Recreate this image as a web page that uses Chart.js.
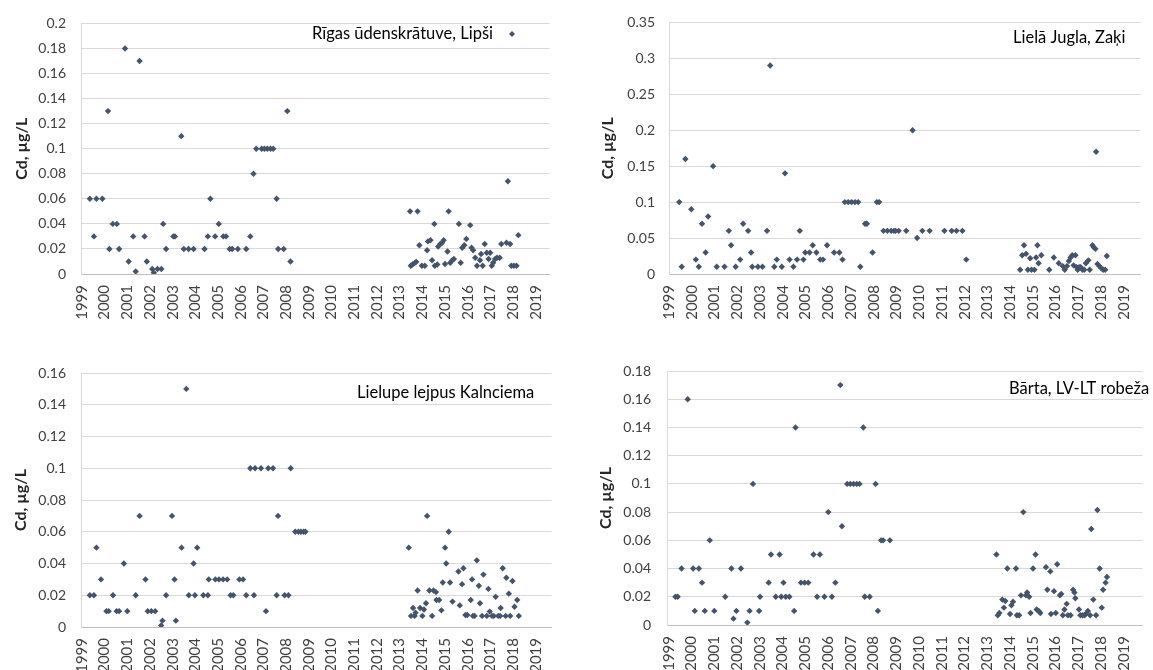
<!DOCTYPE html>
<html>
<head>
<meta charset="utf-8">
<script src="https://cdn.jsdelivr.net/npm/chart.js@4.4.1/dist/chart.umd.min.js"></script>
<style>
  body { margin: 0; background: #fff; width: 1153px; height: 670px; overflow: hidden; position: relative; }
  .panel { position: absolute; height: 330px; }
</style>
</head>
<body>
<div class="panel" style="left:0;top:0;width:565px"><canvas id="lipsi"></canvas></div>
<div class="panel" style="left:576px;top:0;width:577px"><canvas id="zaki"></canvas></div>
<div class="panel" style="left:0;top:340px;width:565px"><canvas id="kalnciems"></canvas></div>
<div class="panel" style="left:576px;top:340px;width:577px"><canvas id="barta"></canvas></div>
<script>
// sampling dates (decimal years) and Cd values, µg/L
const lipsiYears = [
  1999.35, 1999.53, 1999.64, 1999.9, 2000.15, 2000.21, 2000.36, 2000.54, 2000.64, 2000.9,
  2001.06, 2001.26, 2001.37, 2001.54, 2001.76, 2001.86, 2002.1, 2002.17, 2002.33, 2002.5,
  2002.58, 2002.71, 2003.03, 2003.1, 2003.38, 2003.49, 2003.7, 2003.92, 2004.4, 2004.55,
  2004.66, 2004.87, 2005.03, 2005.23, 2005.35, 2005.51, 2005.62, 2005.87, 2006.24, 2006.42,
  2006.56, 2006.68, 2006.92, 2007.04, 2007.17, 2007.31, 2007.43, 2007.58, 2007.65, 2007.89,
  2008.05, 2008.19,
  2013.46, 2013.79, 2013.49, 2013.57, 2013.66, 2013.73, 2013.87, 2013.98, 2014.11, 2014.21,
  2014.25, 2014.36, 2014.43, 2014.53, 2014.55, 2014.66, 2014.7, 2014.79, 2014.87, 2014.94,
  2015.0, 2015.11, 2015.16, 2015.23, 2015.32, 2015.39, 2015.61, 2015.69, 2015.76, 2015.85,
  2015.94, 2016.11, 2016.17, 2016.24, 2016.33, 2016.41, 2016.54, 2016.59, 2016.66, 2016.75,
  2016.84, 2016.92, 2016.99, 2017.06, 2017.12, 2017.21, 2017.29, 2017.41, 2017.48, 2017.71,
  2017.77, 2017.87, 2017.92, 2018.03, 2018.15, 2018.23
];
const lipsiCd = [
  0.06, 0.03, 0.06, 0.06, 0.13, 0.02, 0.04, 0.04, 0.02, 0.18,
  0.01, 0.03, 0.002, 0.17, 0.03, 0.01, 0.004, 0.001, 0.004, 0.004,
  0.04, 0.02, 0.03, 0.03, 0.11, 0.02, 0.02, 0.02, 0.02, 0.03,
  0.06, 0.03, 0.04, 0.03, 0.03, 0.02, 0.02, 0.02, 0.02, 0.03,
  0.08, 0.1, 0.1, 0.1, 0.1, 0.1, 0.1, 0.06, 0.02, 0.02,
  0.13, 0.01,
  0.05, 0.05, 0.0066, 0.0076, 0.0087, 0.0097, 0.023, 0.0066, 0.0066, 0.019,
  0.026, 0.027, 0.011, 0.04, 0.0066, 0.0076, 0.022, 0.024, 0.025, 0.027,
  0.008, 0.018, 0.05, 0.009, 0.011, 0.012, 0.04, 0.009, 0.021, 0.023,
  0.028, 0.039, 0.021, 0.019, 0.013, 0.0066, 0.011, 0.016, 0.0066, 0.024,
  0.017, 0.012, 0.017, 0.0066, 0.009, 0.012, 0.013, 0.013, 0.024, 0.025,
  0.074, 0.024, 0.0066, 0.0066, 0.0066, 0.031
];

const zakiYears = [
  1999.45, 1999.56, 1999.72, 1999.98, 2000.18, 2000.31, 2000.45, 2000.61, 2000.72, 2000.94,
  2001.1, 2001.44, 2001.63, 2001.73, 2001.93, 2002.13, 2002.26, 2002.48, 2002.61, 2002.66,
  2002.91, 2003.11, 2003.31, 2003.45, 2003.63, 2003.74, 2003.96, 2004.1, 2004.3, 2004.47,
  2004.63, 2004.75, 2004.91, 2004.99, 2005.18, 2005.32, 2005.48, 2005.65, 2005.77, 2005.95,
  2006.26, 2006.49, 2006.63, 2006.73, 2006.88, 2007.03, 2007.18, 2007.32, 2007.41, 2007.62,
  2007.7, 2007.95, 2008.14, 2008.24, 2008.43, 2008.6, 2008.77, 2008.89, 2008.96, 2009.1,
  2009.43, 2009.71, 2009.91, 2010.14, 2010.46, 2011.11, 2011.43, 2011.64, 2011.9, 2012.07,
  2014.44, 2014.53, 2014.61, 2014.7, 2014.78, 2014.88, 2014.94, 2015.07, 2015.14, 2015.2,
  2015.25, 2015.37, 2015.72, 2015.92, 2016.14, 2016.31, 2016.4, 2016.5, 2016.58, 2016.66,
  2016.73, 2016.79, 2016.87, 2016.92, 2016.97, 2017.03, 2017.1, 2017.18, 2017.26, 2017.33,
  2017.44, 2017.5, 2017.62, 2017.68, 2017.75, 2017.78, 2017.84, 2017.92, 2018.01, 2018.09,
  2018.18, 2018.25
];
const zakiCd = [
  0.1, 0.01, 0.16, 0.09, 0.02, 0.01, 0.07, 0.03, 0.08, 0.15,
  0.01, 0.01, 0.06, 0.04, 0.01, 0.02, 0.07, 0.06, 0.03, 0.01,
  0.01, 0.01, 0.06, 0.29, 0.01, 0.02, 0.01, 0.14, 0.02, 0.01,
  0.02, 0.06, 0.02, 0.03, 0.03, 0.04, 0.03, 0.02, 0.02, 0.04,
  0.03, 0.03, 0.02, 0.1, 0.1, 0.1, 0.1, 0.1, 0.01, 0.07,
  0.07, 0.03, 0.1, 0.1, 0.06, 0.06, 0.06, 0.06, 0.06, 0.06,
  0.06, 0.2, 0.05, 0.06, 0.06, 0.06, 0.06, 0.06, 0.06, 0.02,
  0.006, 0.026, 0.04, 0.028, 0.006, 0.022, 0.006, 0.006, 0.023, 0.04,
  0.015, 0.026, 0.006, 0.023, 0.015, 0.011, 0.006, 0.011, 0.018, 0.023,
  0.026, 0.012, 0.026, 0.0096, 0.006, 0.0096, 0.0096, 0.006, 0.006, 0.015,
  0.019, 0.006, 0.04, 0.037, 0.035, 0.17, 0.014, 0.011, 0.008, 0.006,
  0.006, 0.025
];

const kalnciemsYears = [
  1999.35, 1999.53, 1999.64, 1999.84, 2000.08, 2000.18, 2000.37, 2000.53, 2000.64, 2000.85,
  2001.0, 2001.37, 2001.54, 2001.8, 2001.9, 2002.06, 2002.23, 2002.49, 2002.55, 2002.71,
  2002.97, 2003.08, 2003.14, 2003.39, 2003.6, 2003.71, 2003.92, 2003.98, 2004.08, 2004.35,
  2004.55, 2004.59, 2004.88, 2005.04, 2005.22, 2005.4, 2005.55, 2005.67, 2005.94, 2006.1,
  2006.24, 2006.42, 2006.58, 2006.63, 2006.89, 2007.11, 2007.21, 2007.42, 2007.58, 2007.64,
  2007.93, 2008.1, 2008.2, 2008.4, 2008.54, 2008.65, 2008.77, 2008.85,
  2013.4, 2013.5, 2013.59, 2013.66, 2013.7, 2013.79, 2013.9, 2014.0, 2014.07, 2014.16,
  2014.21, 2014.31, 2014.43, 2014.49, 2014.6, 2014.62, 2014.74, 2014.84, 2014.9, 2015.0,
  2015.05, 2015.16, 2015.22, 2015.33, 2015.59, 2015.65, 2015.75, 2015.81, 2015.9, 2015.98,
  2016.13, 2016.19, 2016.23, 2016.3, 2016.4, 2016.49, 2016.54, 2016.63, 2016.69, 2016.84,
  2016.91, 2016.97, 2017.07, 2017.15, 2017.23, 2017.34, 2017.43, 2017.45, 2017.54, 2017.67,
  2017.7, 2017.81, 2017.87, 2017.97, 2018.06, 2018.18, 2018.25
];
const kalnciemsCd = [
  0.02, 0.02, 0.05, 0.03, 0.01, 0.01, 0.02, 0.01, 0.01, 0.04,
  0.01, 0.02, 0.07, 0.03, 0.01, 0.01, 0.01, 0.001, 0.004, 0.02,
  0.07, 0.03, 0.004, 0.05, 0.15, 0.02, 0.04, 0.02, 0.05, 0.02,
  0.02, 0.03, 0.03, 0.03, 0.03, 0.03, 0.02, 0.02, 0.03, 0.03,
  0.02, 0.1, 0.02, 0.1, 0.1, 0.01, 0.1, 0.1, 0.02, 0.07,
  0.02, 0.02, 0.1, 0.06, 0.06, 0.06, 0.06, 0.06,
  0.05, 0.007, 0.012, 0.007, 0.009, 0.023, 0.012, 0.007, 0.011, 0.015,
  0.07, 0.023, 0.007, 0.023, 0.022, 0.017, 0.017, 0.0105, 0.028, 0.05,
  0.04, 0.06, 0.028, 0.016, 0.035, 0.0136, 0.027, 0.037, 0.0076, 0.0076,
  0.017, 0.03, 0.007, 0.007, 0.042, 0.026, 0.015, 0.007, 0.033, 0.007,
  0.024, 0.0097, 0.007, 0.007, 0.019, 0.007, 0.007, 0.012, 0.037, 0.007,
  0.031, 0.021, 0.007, 0.029, 0.0128, 0.017, 0.007
];

const bartaYears = [
  1999.29, 1999.39, 1999.56, 1999.83, 2000.07, 2000.14, 2000.32, 2000.46, 2000.58, 2000.8,
  2001.0, 2001.48, 2001.75, 2001.84, 2001.97, 2002.17, 2002.45, 2002.55, 2002.7, 2002.97,
  2003.01, 2003.39, 2003.49, 2003.7, 2003.87, 2003.94, 2004.04, 2004.14, 2004.3, 2004.51,
  2004.57, 2004.81, 2004.97, 2005.13, 2005.36, 2005.52, 2005.64, 2005.84, 2006.01, 2006.17,
  2006.32, 2006.54, 2006.61, 2006.84, 2006.98, 2007.12, 2007.26, 2007.38, 2007.55, 2007.61,
  2007.83, 2008.09, 2008.19, 2008.33, 2008.42, 2008.72,
  2013.4, 2013.46, 2013.53, 2013.66, 2013.73, 2013.79, 2013.88, 2014.0, 2014.06, 2014.13,
  2014.26, 2014.3, 2014.4, 2014.48, 2014.58, 2014.7, 2014.75, 2014.84, 2014.9, 2015.01,
  2015.12, 2015.17, 2015.26, 2015.33, 2015.58, 2015.64, 2015.77, 2015.8, 2015.93, 2016.01,
  2016.07, 2016.19, 2016.25, 2016.32, 2016.39, 2016.49, 2016.54, 2016.66, 2016.77, 2016.83,
  2016.87, 2017.03, 2017.09, 2017.19, 2017.27, 2017.33, 2017.42, 2017.52, 2017.57, 2017.66,
  2017.78, 2017.84, 2017.94, 2018.03, 2018.09, 2018.2, 2018.26
];
const bartaCd = [
  0.02, 0.02, 0.04, 0.16, 0.04, 0.01, 0.04, 0.03, 0.01, 0.06,
  0.01, 0.02, 0.04, 0.0045, 0.01, 0.04, 0.0017, 0.01, 0.1, 0.01,
  0.02, 0.03, 0.05, 0.02, 0.05, 0.02, 0.03, 0.02, 0.02, 0.01,
  0.14, 0.03, 0.03, 0.03, 0.05, 0.02, 0.05, 0.02, 0.08, 0.02,
  0.03, 0.17, 0.07, 0.1, 0.1, 0.1, 0.1, 0.1, 0.14, 0.02,
  0.02, 0.1, 0.01, 0.06, 0.06, 0.06,
  0.05, 0.0069, 0.0085, 0.018, 0.0123, 0.017, 0.04, 0.0078, 0.014, 0.0165,
  0.04, 0.0069, 0.0069, 0.021, 0.08, 0.021, 0.023, 0.02, 0.0085, 0.04,
  0.05, 0.011, 0.0099, 0.0085, 0.041, 0.025, 0.038, 0.0078, 0.024, 0.0085,
  0.043, 0.021, 0.022, 0.0069, 0.011, 0.015, 0.0069, 0.0069, 0.025, 0.023,
  0.019, 0.011, 0.0069, 0.0069, 0.0069, 0.0078, 0.0099, 0.0069, 0.068, 0.018,
  0.0069, 0.0815, 0.04, 0.0123, 0.025, 0.03, 0.034
];

const markerColor = '#44546a';
const FONT = 'Lato';

// station name written inside the plot (Excel text box / legend)
const stationLabel = {
  id: 'stationLabel',
  afterDraw(chart, args, o) {
    const ctx = chart.ctx;
    ctx.save();
    ctx.font = '16.5px ' + FONT;
    ctx.fillStyle = '#000';
    ctx.textBaseline = 'middle';
    ctx.fillText(o.text, o.x, o.y);
    if (o.markerX) {
      ctx.fillStyle = markerColor;
      ctx.strokeStyle = markerColor;
      Chart.helpers.drawPoint(ctx, {pointStyle: 'rectRot', radius: 3, borderWidth: 0, rotation: 0}, o.markerX, o.y);
    }
    ctx.restore();
  }
};

function makeChart(id, years, values, cfg) {
  const points = years.map((y, i) => ({x: y, y: values[i]}));
  return new Chart(document.getElementById(id), {
    type: 'scatter',
    data: {
      datasets: [{
        data: points,
        pointStyle: 'rectRot',
        pointRadius: 3.2,
        pointBorderWidth: 0,
        backgroundColor: markerColor,
        borderColor: markerColor
      }]
    },
    options: {
      responsive: true,
      maintainAspectRatio: false,
      animation: false,
      events: [],
      layout: {padding: {top: cfg.top, right: cfg.right, left: 0, bottom: 0}},
      plugins: {
        legend: {display: false},
        tooltip: {enabled: false},
        stationLabel: cfg.label
      },
      scales: {
        x: {
          type: 'linear',
          min: cfg.xMin,
          max: cfg.xMax,
          afterFit: s => { s.height = cfg.xHeight; },
          grid: {display: false, drawTicks: false},
          border: {display: true, color: '#bfbfbf'},
          ticks: {
            stepSize: 1,
            includeBounds: false,
            autoSkip: false,
            minRotation: 90,
            maxRotation: 90,
            padding: 11,
            color: '#404040',
            font: {family: FONT, size: 15},
            callback: v => String(v)
          }
        },
        y: {
          min: 0,
          max: cfg.yMax,
          afterFit: s => { s.width = cfg.yWidth; },
          grid: {color: '#d9d9d9', drawTicks: false},
          border: {display: true, color: '#d9d9d9'},
          title: {
            display: true,
            text: 'Cd, µg/L',
            color: '#262626',
            font: {family: FONT, size: 16, weight: 'bold'},
            padding: {top: cfg.titlePad, bottom: 0}
          },
          ticks: {
            stepSize: cfg.yStep,
            padding: cfg.tickPad,
            color: '#404040',
            font: {family: FONT, size: 14},
            callback: v => String(+v.toFixed(4))
          }
        }
      }
    },
    plugins: [stationLabel]
  });
}

makeChart('lipsi', lipsiYears, lipsiCd, {
  xMin: 1998.96, xMax: 2019.6, yMax: 0.2, yStep: 0.02,
  top: 20, right: 7, yWidth: 81, xHeight: 56, titlePad: 12, tickPad: 15,
  label: {text: 'Rīgas ūdenskrātuve, Lipši', x: 312, y: 34, markerX: 512}
});
makeChart('zaki', zakiYears, zakiCd, {
  xMin: 1999, xMax: 2019.73, yMax: 0.35, yStep: 0.05,
  top: 20, right: 3, yWidth: 93, xHeight: 56, titlePad: 22, tickPad: 14,
  label: {text: 'Lielā Jugla, Zaķi', x: 437, y: 38}
});
makeChart('kalnciems', kalnciemsYears, kalnciemsCd, {
  xMin: 1998.96, xMax: 2019.69, yMax: 0.16, yStep: 0.02,
  top: 33, right: 5, yWidth: 81, xHeight: 43, titlePad: 11, tickPad: 15,
  label: {text: 'Lielupe lejpus Kalnciema', x: 357, y: 53}
});
makeChart('barta', bartaYears, bartaCd, {
  xMin: 1998.92, xMax: 2019.83, yMax: 0.18, yStep: 0.02,
  top: 31, right: 5, yWidth: 91, xHeight: 45, titlePad: 20, tickPad: 16,
  label: {text: 'Bārta, LV-LT robeža', x: 433, y: 49}
});
</script>
</body>
</html>
